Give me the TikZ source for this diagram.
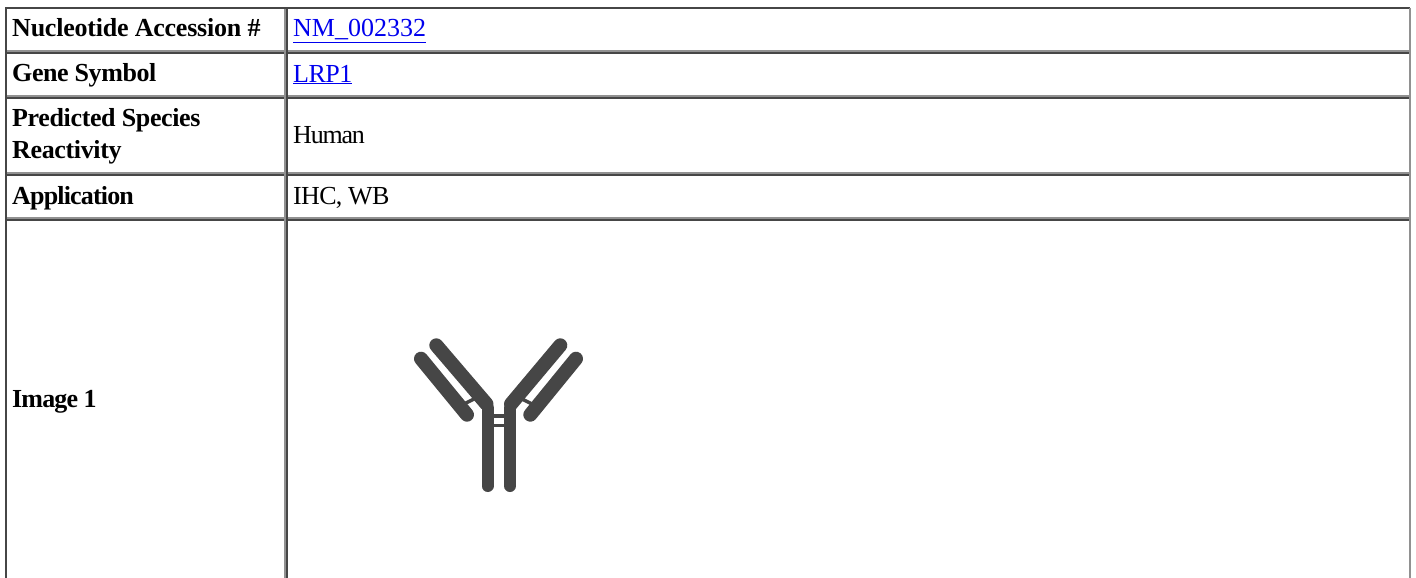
\documentclass[tikz,border=0pt]{standalone}
\usepackage{fontspec}
\setmainfont{Liberation Serif}
\definecolor{bdark}{RGB}{70,70,70}
\definecolor{blight}{RGB}{145,145,145}
\definecolor{ablue}{RGB}{0,0,238}
\definecolor{abgrey}{RGB}{70,70,70}
\newcommand{\ls}[2]{{\addfontfeature{LetterSpace=#1}#2}}
\tikzset{
  x=1pt,y=-1pt,
  darkline/.style={draw=bdark,line width=1.6pt},
  lightline/.style={draw=blight,line width=1.6pt},
  head/.style={anchor=base west,font=\bfseries\fontsize{26}{32}\selectfont,inner sep=0pt,text=black},
  val/.style={anchor=base west,font=\fontsize{26}{30}\selectfont,inner sep=0pt,text=black},
  alink/.style={anchor=base west,font=\fontsize{26}{30}\selectfont,inner sep=0pt,text=ablue},
  arm/.style={draw=abgrey,line cap=round,line width=14pt},
  stem/.style={draw=abgrey,line cap=round,line width=12pt},
  rung/.style={draw=abgrey,line width=3.5pt}
}
\begin{document}
\begin{tikzpicture}
\useasboundingbox (0,0) rectangle (1416,578);
\fill[white] (0,0) rectangle (1416,578);
% outer border
\draw[darkline] (6,578) -- (6,8) -- (1410,8);
\draw[lightline] (1410,8) -- (1410,578);
% rows
\foreach \yy in {51,96,173,218}{
  \draw[lightline] (7,\yy) -- (1409,\yy);
  \draw[darkline] (7,\yy+2) -- (1409,\yy+2);
}
% column
\draw[lightline] (285,9) -- (285,578);
\draw[darkline] (287,9) -- (287,578);
% text
\node[head] (h1) at (12,37) {\ls{-0.9}{Nucleotide Accession \#}};
\node[head] (h2) at (12,81.5) {\ls{-1.7}{Gene Symbol}};
\node[head] (h3a) at (12,126.5) {\ls{-1.4}{Predicted Species}};
\node[head] (h3b) at (12,158.5) {\ls{-1.4}{Reactivity}};
\node[head] (h4) at (12,204) {\ls{-3.2}{Application}};
\node[head] (h5) at (12,407) {\ls{-3.3}{Image 1}};
\node[alink] (v1) at (293,37) {\underline{NM\_002332}};
\node[alink] (v2) at (293,82) {\underline{\ls{-2}{LRP1}}};
\node[val] (v3) at (293,143) {\ls{-4.6}{Human}};
\node[val] (v4) at (293,204) {\ls{-2.7}{IHC, WB}};
% antibody
\draw[stem] (487.5,486) -- (487.5,408);
\draw[stem] (510,486) -- (510,408);
\draw[arm] (436.3,345.3) -- (486.5,404);
\draw[arm] (560.3,345.3) -- (511,404);
\draw[arm] (421,358.7) -- (467,414.7);
\draw[arm] (576,358.7) -- (530.3,414.7);
\draw[rung] (487,416) -- (509,416);
\draw[rung] (487,425.5) -- (509,425.5);
\draw[rung] (464,404) -- (480,396);
\draw[rung] (532,404) -- (516,396);
\end{tikzpicture}
\end{document}
